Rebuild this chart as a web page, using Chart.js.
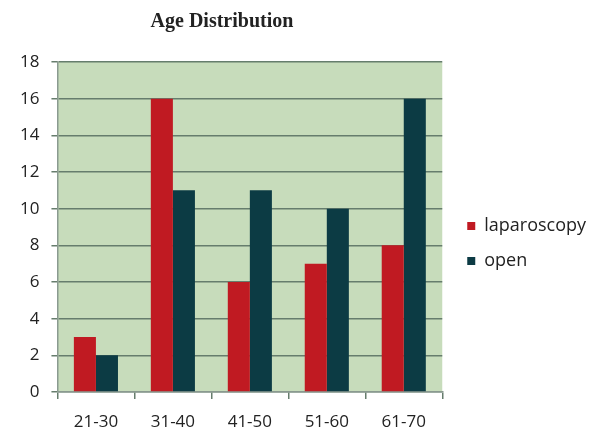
<!DOCTYPE html>
<html>
<head>
  <title>Age Distribution</title>
  <script src="https://cdn.jsdelivr.net/npm/chart.js"></script>
  <style>
    body {
      margin: 0;
      background-color: #fff;
    }

    .wrap {
      position: relative;
      width: 598px;
      height: 433px;
    }

    .chart-title {
      position: absolute;
      left: 0;
      width: 444px;
      top: 9px;
      text-align: center;
      font-family: "Liberation Serif", "DejaVu Serif", serif;
      font-weight: bold;
      font-size: 20px;
      color: #222;
    }
  </style>
</head>
<body>
  <div class="wrap">
    <canvas id="ageChart" width="598" height="433"></canvas>
    <div class="chart-title">Age Distribution</div>
  </div>

  <script>
    const ageGroups = ['21-30', '31-40', '41-50', '51-60', '61-70'];
    const laparoscopy = [3, 16, 6, 7, 8];
    const open = [2, 11, 11, 10, 16];
    const yTicks = [0, 2, 4, 6, 8, 10, 12, 14, 16, 18];

    // green plot background like the original
    const plotBackground = {
      id: 'plotBackground',
      beforeDraw(chart) {
        const area = chart.chartArea;
        const ctx = chart.ctx;
        ctx.save();
        ctx.fillStyle = '#c7dcbb';
        ctx.fillRect(area.left, area.top, area.right - area.left, area.bottom - area.top);
        ctx.restore();
      }
    };

    // push the legend a bit right and up, as in the original
    const nudgeLegend = {
      id: 'nudgeLegend',
      afterLayout(chart) {
        chart.legend.left += 8;
        chart.legend.right += 8;
        chart.legend.top -= 4;
        chart.legend.bottom -= 4;
      }
    };

    const ctx = document.getElementById('ageChart').getContext('2d');

    const chart = new Chart(ctx, {
      type: 'bar',
      data: {
        labels: ageGroups,
        datasets: [{
          label: 'laparoscopy',
          data: laparoscopy,
          backgroundColor: '#c01a22'
        }, {
          label: 'open',
          data: open,
          backgroundColor: '#0c3b44'
        }]
      },
      options: {
        responsive: false,
        animation: false,
        categoryPercentage: 0.573,
        barPercentage: 1,
        layout: {
          padding: { top: 62, left: 8, right: 11, bottom: 0 }
        },
        scales: {
          y: {
            min: 0,
            max: 18,
            afterBuildTicks: function(axis) {
              axis.ticks = yTicks.map(v => ({ value: v }));
            },
            grid: {
              color: '#667d6d',
              lineWidth: 1.5,
              tickLength: 6
            },
            border: { color: '#8a9a90', width: 1.5 },
            ticks: {
              color: '#222',
              padding: 12,
              font: { family: '"Open Sans", sans-serif', size: 17 }
            }
          },
          x: {
            afterFit: function(scale) {
              scale.height = 41;
            },
            grid: {
              drawOnChartArea: false,
              color: '#667d6d',
              lineWidth: 1.5,
              tickLength: 7
            },
            border: { color: '#8a9a90', width: 1.5 },
            ticks: {
              color: '#222',
              padding: 13,
              font: { family: '"Open Sans", sans-serif', size: 17 }
            }
          }
        },
        plugins: {
          title: { display: false },
          tooltip: { enabled: false },
          legend: {
            position: 'right',
            labels: {
              boxWidth: 8,
              boxHeight: 8,
              padding: 17,
              color: '#222',
              font: { family: '"Open Sans", sans-serif', size: 18 }
            }
          }
        }
      },
      plugins: [plotBackground, nudgeLegend]
    });
  </script>
</body>
</html>
